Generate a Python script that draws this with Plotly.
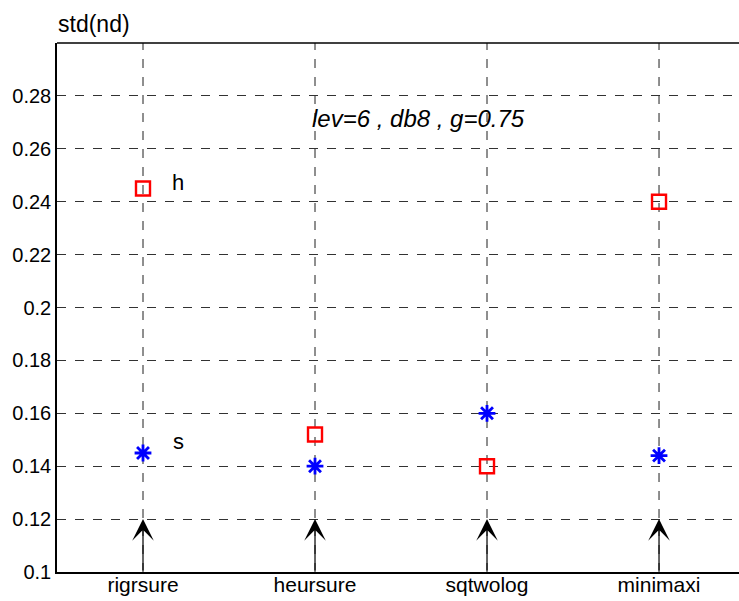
import plotly.graph_objects as go

categories = ["rigrsure", "heursure", "sqtwolog", "minimaxi"]
h_vals = [0.245, 0.152, 0.140, 0.240]
s_vals = [0.145, 0.140, 0.160, 0.144]
y_ticks = [0.1, 0.12, 0.14, 0.16, 0.18, 0.2, 0.22, 0.24, 0.26, 0.28]
y_tick_labels = ["0.1", "0.12", "0.14", "0.16", "0.18", "0.2", "0.22", "0.24", "0.26", "0.28"]
arrow_base = 0.1
arrow_tip = 0.12
note_y = 0.2713

xpos = list(range(1, len(categories) + 1))
FONT = "Liberation Sans, Arial, sans-serif"

fig = go.Figure()
fig.add_trace(go.Scatter(
    x=xpos, y=h_vals, mode="markers",
    marker=dict(symbol="square-open", size=14, color="red", line=dict(width=2.4, color="red")),
    showlegend=False))
fig.add_trace(go.Scatter(
    x=xpos, y=s_vals, mode="markers",
    marker=dict(symbol="asterisk-open", size=14, color="blue", line=dict(width=2.8, color="blue")),
    showlegend=False))

for xi in xpos:
    fig.add_shape(type="line", xref="x", yref="paper", x0=xi, x1=xi, y0=0, y1=1,
                  line=dict(color="rgb(30,30,30)", width=1, dash="dash"), layer="below")
    fig.add_annotation(x=xi, y=arrow_tip, ax=xi, ay=arrow_base, xref="x", yref="y",
                       axref="x", ayref="y", text="", showarrow=True,
                       arrowhead=3, arrowsize=3, arrowwidth=1.2, arrowcolor="black")

fig.add_annotation(x=1, y=h_vals[0], xref="x", yref="y", text="h", showarrow=False,
                   xanchor="center", yanchor="middle",
                   xshift=35, yshift=6, font=dict(size=22, color="black", family=FONT))
fig.add_annotation(x=1, y=s_vals[0], xref="x", yref="y", text="s", showarrow=False,
                   xanchor="center", yanchor="middle",
                   xshift=35, yshift=11, font=dict(size=22, color="black", family=FONT))
fig.add_annotation(x=0.371, y=note_y, xref="paper", yref="y", xanchor="left", yanchor="middle",
                   text="<i>lev=6 , db8 , g=0.75</i>", showarrow=False,
                   font=dict(size=24, color="black", family=FONT))
fig.add_annotation(x=0, y=1, xref="paper", yref="paper", xanchor="left", yanchor="bottom",
                   xshift=-1, yshift=4, text="std(nd)", showarrow=False,
                   font=dict(size=23, color="black", family=FONT))

fig.update_layout(
    width=739, height=601,
    margin=dict(l=57, r=0, t=43, b=29),
    paper_bgcolor="white", plot_bgcolor="white",
    font=dict(family=FONT, size=20, color="black"),
    xaxis=dict(range=[0.5, 4.465], tickvals=xpos, ticktext=categories, automargin=False,
               showgrid=False, zeroline=False, showline=True, linecolor="black",
               linewidth=1.5, mirror=False, ticks="", tickfont=dict(size=21),
               ticklabelstandoff=-7),
    yaxis=dict(range=[0.1, 0.3], tickvals=y_ticks, ticktext=y_tick_labels, automargin=False,
               showgrid=True, gridcolor="rgb(50,50,50)", gridwidth=1, griddash="dash",
               zeroline=False, showline=True, linecolor="black", linewidth=1.5,
               ticks="", tickfont=dict(size=20)),
)
fig.add_shape(type="line", xref="paper", yref="paper", x0=0, x1=1, y0=1, y1=1,
              line=dict(color="black", width=1.5))

fig.write_html("out.html")
